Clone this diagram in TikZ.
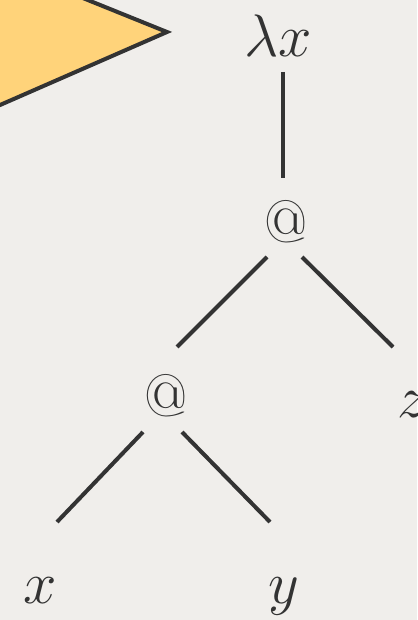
\documentclass[tikz,border=0pt]{standalone}
\usetikzlibrary{calc}
\definecolor{bg}{RGB}{240,238,235}
\definecolor{ink}{RGB}{51,51,51}
\definecolor{callout}{RGB}{255,211,122}
\begin{document}
\begin{tikzpicture}[x=1pt,y=-1pt,
  lbl/.style={font=\Huge, scale=2.41, inner sep=0pt, text=ink},
  edge/.style={draw=ink, line width=4pt}]
\useasboundingbox (0,0) rectangle (417,620);
\clip (0,0) rectangle (417,620);
\fill[bg] (0,0) rectangle (417,620);
\filldraw[fill=callout, draw=ink, line width=4pt, line join=miter]
  (63,-10) -- (167,32) -- (-10,109.4) -- (-10,-10) -- cycle;
\node[lbl, anchor=base] (lx) at (278,57) {$\lambda x$};
\node[lbl] (a1) at (286,222) {@};
\node[lbl] (a2) at (166,396) {@};
\node[lbl, anchor=base] (z) at (412,417) {$z$};
\node[lbl, anchor=base] (x) at (40,603) {$x$};
\node[lbl, anchor=base] (y) at (284,603) {$y$};
\draw[edge] ($(lx.base)+(5,15)$) -- ($(a1.center)+(-3,-44)$);
\draw[edge] ($(a1.center)+(-19,35)$) -- ($(a2.center)+(11,-49)$);
\draw[edge] ($(a1.center)+(16,35)$) -- ($(z.base)+(-19,-70)$);
\draw[edge] ($(a2.center)+(-23,36)$) -- ($(x.base)+(17,-81)$);
\draw[edge] ($(a2.center)+(16,36)$) -- ($(y.base)+(-14,-81)$);
\end{tikzpicture}
\end{document}
